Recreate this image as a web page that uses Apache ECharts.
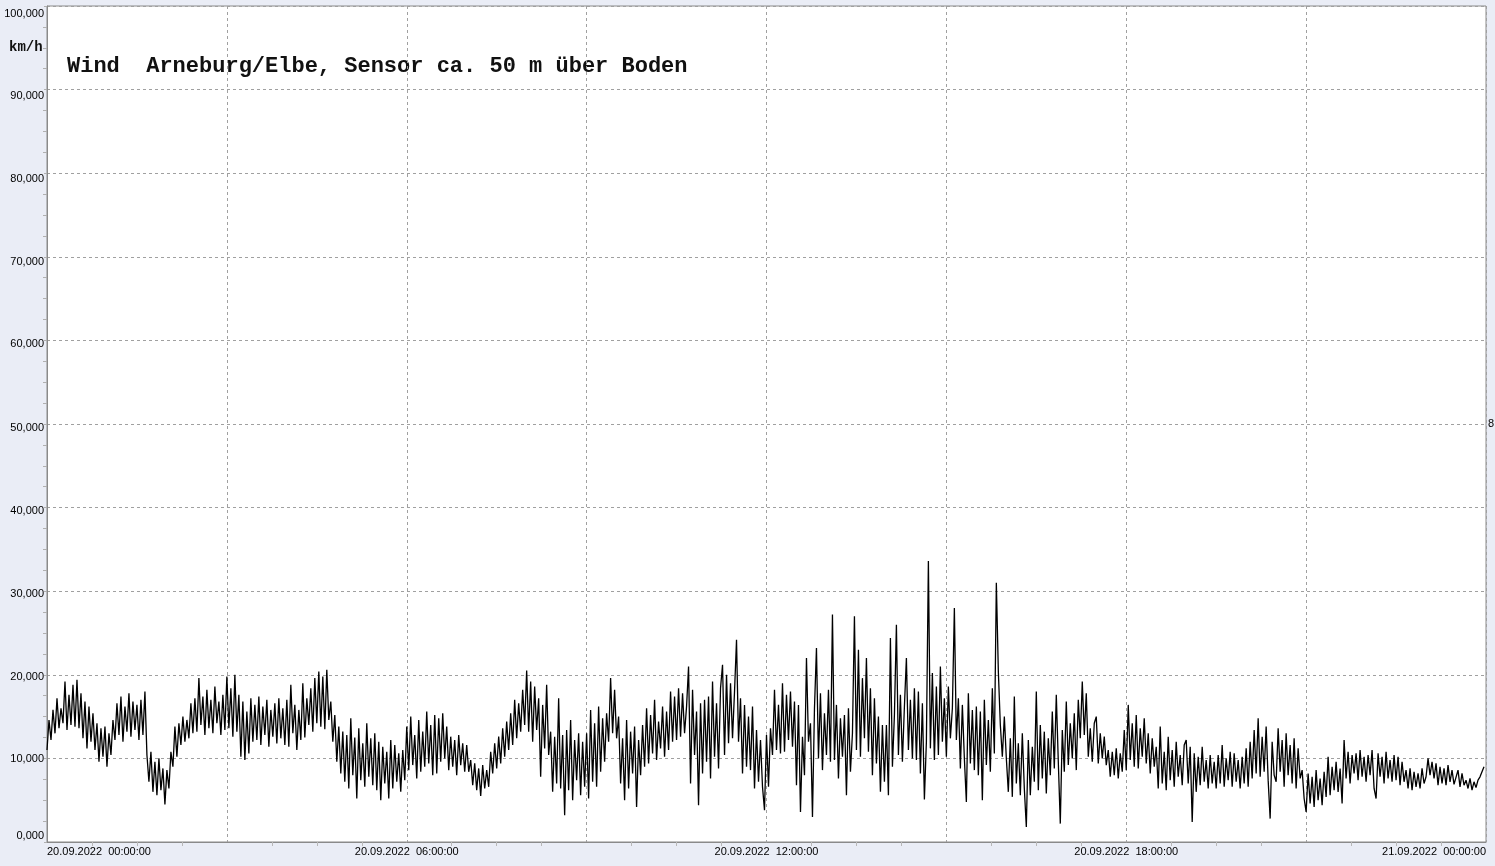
<!DOCTYPE html>
<html>
<head>
<meta charset="utf-8">
<script src="https://cdn.jsdelivr.net/npm/echarts@6/dist/echarts.min.js"></script>
<style>
  html, body { margin: 0; padding: 0; background: #eaedf6; }
  #chart { width: 1495px; height: 866px; }
</style>
</head>
<body>
<div id="chart"></div>
<script>
// ---- Data ----
const chartTitle = 'Wind  Arneburg/Elbe, Sensor ca. 50 m über Boden';
const unitLabel = 'km/h';
const sideLabel = '8';
const sampleStepMin = 2; // one sample every 2 minutes, starting 20.09.2022 00:00:00
const xTickLabels = ['20.09.2022  00:00:00', '', '20.09.2022  06:00:00', '', '20.09.2022  12:00:00', '', '20.09.2022  18:00:00', '', '21.09.2022  00:00:00'];
const yTickLabels = ['0,000', '10,000', '20,000', '30,000', '40,000', '50,000', '60,000', '70,000', '80,000', '90,000', '100,000'];
const windKmh = [
  11.0, 14.6, 12.2, 15.8, 13.0, 17.2, 13.6, 16.0, 14.2, 19.2, 13.4, 17.6, 14.0, 18.8, 13.8,
  19.4, 13.6, 17.8, 12.4, 16.8, 11.2, 16.2, 12.0, 15.4, 11.0, 14.2, 9.6, 13.6, 10.2, 13.8,
  9.0, 13.0, 10.4, 14.6, 12.2, 16.6, 12.8, 17.4, 12.0, 16.2, 13.2, 17.8, 12.6, 16.8, 13.4,
  16.4, 12.2, 17.0, 12.8, 18.0, 10.4, 7.2, 10.8, 6.0, 9.6, 5.6, 10.0, 6.2, 8.8, 4.5,
  8.6, 6.4, 10.8, 9.0, 13.8, 10.2, 14.2, 11.6, 15.0, 12.0, 14.6, 12.4, 16.6, 13.0, 17.2,
  13.2, 19.6, 14.0, 17.4, 12.8, 18.2, 13.6, 17.0, 13.0, 18.6, 14.2, 16.8, 12.8, 17.6, 13.4,
  19.8, 13.6, 18.4, 12.6, 20.0, 13.2, 17.6, 10.2, 16.8, 9.8, 15.6, 10.6, 17.2, 12.0, 16.4,
  12.2, 17.4, 11.6, 16.2, 12.8, 17.0, 11.4, 15.8, 12.6, 16.6, 11.8, 17.2, 12.4, 16.0, 11.6,
  17.0, 11.4, 18.8, 13.0, 16.4, 11.0, 15.8, 12.2, 19.0, 12.5, 17.2, 14.0, 18.4, 13.2, 19.6,
  14.2, 20.4, 13.8, 19.8, 13.5, 20.6, 14.6, 16.8, 12.0, 15.2, 9.6, 13.8, 8.2, 13.2, 7.2,
  12.8, 6.4, 14.8, 8.0, 12.5, 5.2, 13.6, 7.4, 11.8, 6.6, 14.2, 7.8, 12.4, 6.8, 13.0,
  6.2, 12.0, 5.0, 11.4, 7.0, 10.8, 5.2, 12.2, 6.4, 11.6, 7.2, 10.6, 6.0, 11.0, 7.4,
  13.8, 8.6, 15.0, 9.2, 12.8, 7.6, 14.6, 8.4, 13.2, 9.0, 15.6, 9.4, 14.0, 8.0, 15.2,
  8.2, 14.8, 9.6, 15.4, 10.0, 13.8, 8.6, 12.6, 9.0, 12.2, 8.0, 12.8, 9.2, 11.8, 8.4,
  11.6, 8.4, 9.8, 6.8, 9.4, 6.2, 8.8, 5.5, 9.2, 6.4, 8.6, 6.6, 10.8, 8.2, 11.8,
  8.8, 12.6, 9.4, 13.6, 10.2, 14.4, 11.0, 15.4, 11.6, 17.0, 12.4, 16.6, 13.2, 18.2, 14.0,
  20.5, 13.2, 19.2, 12.0, 18.6, 13.4, 17.2, 7.8, 16.4, 11.2, 18.8, 10.4, 13.2, 6.0, 12.6,
  7.0, 17.2, 6.4, 12.8, 3.2, 13.4, 6.2, 14.6, 5.0, 12.2, 7.4, 13.0, 5.6, 12.0, 6.6,
  13.0, 5.2, 15.8, 7.2, 14.2, 6.6, 16.2, 8.4, 14.8, 9.6, 15.4, 12.0, 19.6, 13.0, 18.2,
  12.4, 15.0, 7.0, 12.4, 5.0, 14.6, 6.4, 13.2, 8.2, 13.8, 4.2, 12.2, 8.0, 14.0, 9.0,
  16.0, 9.4, 15.2, 10.6, 17.0, 9.8, 14.4, 11.2, 16.2, 10.2, 15.6, 11.0, 18.0, 12.0, 17.4,
  12.2, 18.4, 12.6, 17.8, 13.0, 16.2, 21.0, 7.0, 18.2, 10.4, 15.6, 4.4, 16.6, 8.2, 17.0,
  9.6, 17.4, 7.6, 19.2, 10.2, 16.6, 8.8, 18.4, 21.2, 10.4, 20.0, 11.8, 19.0, 12.4, 18.0,
  24.2, 12.0, 17.2, 8.2, 16.4, 9.0, 15.0, 8.6, 16.2, 6.4, 13.4, 7.2, 12.2, 6.6, 3.8,
  12.8, 6.6, 13.6, 10.4, 18.2, 11.0, 16.4, 10.6, 19.0, 10.8, 17.6, 12.2, 18.0, 11.4, 16.8,
  6.8, 16.4, 3.6, 12.6, 8.0, 22.0, 12.0, 14.2, 3.0, 16.0, 23.2, 10.0, 17.8, 8.6, 15.4,
  10.4, 18.2, 9.6, 27.2, 9.8, 16.4, 7.6, 14.8, 10.2, 15.2, 5.6, 16.0, 8.4, 13.0, 27.0,
  11.0, 23.0, 10.2, 19.6, 12.4, 22.0, 10.8, 18.4, 8.0, 17.2, 9.4, 15.0, 6.0, 14.0, 7.2,
  14.0, 5.6, 24.4, 9.0, 15.2, 26.0, 10.4, 17.6, 9.6, 16.2, 22.0, 11.0, 17.0, 10.0, 18.4,
  9.8, 18.0, 8.2, 16.6, 5.1, 12.0, 33.6, 11.2, 20.2, 9.8, 18.6, 10.4, 21.0, 12.0, 17.2,
  10.2, 18.6, 12.4, 16.0, 28.0, 12.2, 17.2, 8.8, 16.4, 10.0, 4.8, 17.8, 9.4, 15.8, 8.6,
  16.2, 8.0, 15.6, 5.0, 17.0, 9.2, 14.6, 8.4, 18.4, 10.6, 31.0, 20.4, 14.0, 10.2, 15.0,
  10.0, 6.0, 12.4, 5.4, 17.4, 7.0, 11.8, 5.6, 13.0, 6.4, 1.8, 12.2, 5.6, 11.4, 7.2,
  18.0, 6.2, 14.0, 7.6, 13.2, 5.8, 12.4, 8.0, 15.6, 8.8, 17.6, 9.6, 2.2, 13.4, 8.4,
  16.8, 9.2, 14.2, 10.0, 15.4, 8.6, 17.0, 12.4, 19.2, 12.8, 17.8, 10.2, 13.6, 9.6, 14.2,
  15.0, 9.4, 13.0, 10.0, 12.6, 9.2, 11.0, 7.8, 10.8, 8.0, 11.2, 7.6, 10.6, 8.4, 13.4,
  8.6, 16.4, 9.8, 14.2, 9.0, 15.2, 8.8, 13.6, 10.2, 14.8, 9.4, 13.0, 8.2, 12.4, 9.0,
  11.4, 6.4, 13.8, 7.0, 10.8, 6.2, 12.6, 7.4, 11.0, 6.6, 12.0, 7.8, 10.4, 6.8, 11.6,
  12.2, 7.0, 11.4, 2.4, 10.6, 6.0, 10.2, 6.8, 11.4, 7.2, 9.8, 6.4, 10.4, 7.0, 9.6,
  6.4, 10.4, 7.0, 11.6, 6.6, 10.0, 7.4, 10.8, 6.6, 10.6, 7.2, 9.8, 6.4, 10.2, 7.0,
  11.2, 6.6, 12.0, 7.6, 13.4, 8.2, 14.8, 7.8, 12.6, 8.4, 13.8, 7.4, 2.8, 12.0, 8.0,
  7.2, 13.6, 8.4, 12.2, 6.6, 13.0, 8.0, 11.6, 7.0, 12.4, 6.4, 11.2, 7.6, 8.6, 5.2,
  3.6, 8.2, 4.6, 7.8, 4.2, 8.6, 5.0, 7.6, 4.4, 8.4, 5.4, 10.2, 5.6, 9.0, 6.2,
  9.6, 6.0, 8.8, 4.6, 12.2, 7.6, 10.8, 7.0, 10.4, 8.2, 10.6, 7.4, 11.0, 7.8, 10.2,
  7.2, 10.4, 8.0, 11.0, 6.4, 5.2, 10.6, 7.8, 10.2, 7.0, 10.8, 7.6, 9.8, 7.2, 10.4,
  7.4, 10.2, 6.8, 9.6, 7.2, 8.6, 6.4, 8.8, 6.2, 8.4, 6.6, 8.2, 6.4, 8.8, 7.0,
  7.8, 10.0, 8.0, 9.6, 7.6, 9.4, 6.8, 9.0, 7.0, 8.8, 6.8, 9.2, 7.2, 8.6, 6.9,
  7.0, 8.6, 6.6, 8.2, 6.8, 7.4, 6.4, 7.6, 6.2, 7.2, 6.5, 7.4, 7.8, 8.4, 9.0
];

// ---- Chart ----
const chart = echarts.init(document.getElementById('chart'), null, { renderer: 'canvas' });
const seriesData = windKmh.map((v, i) => [i * sampleStepMin, v]);
const gridLine = { show: true, lineStyle: { color: '#a0a0a0', type: [3, 3], width: 1 } };

// small vertical nudges of the y labels, as in the reference (px, positive = down)
const yLabelShift = [-6, 1, 2, 3, 3, 4, 4, 5, 6, 6, 8];
const yRich = {};
yLabelShift.forEach((d, i) => {
  yRich['l' + i] = {
    fontSize: 11, color: '#000', fontFamily: 'Liberation Sans, Arial, sans-serif',
    padding: d >= 0 ? [2 * d, 0, 0, 0] : [0, 0, -2 * d, 0]
  };
});

chart.setOption({
  backgroundColor: '#eaedf6',
  animation: false,
  grid: { left: 47, right: 9, top: 6, bottom: 24, show: true, backgroundColor: '#ffffff', borderColor: '#8a8a8a', borderWidth: 1 },
  xAxis: {
    type: 'value', min: 0, max: 1440, interval: 180,
    axisLine: { show: true, lineStyle: { color: '#8a8a8a' } },
    axisTick: { show: false },
    minorTick: { show: true, splitNumber: 4, length: 4, lineStyle: { color: '#b8b8b8' } },
    splitLine: gridLine,
    axisLabel: {
      margin: 4, fontSize: 11, color: '#000', fontFamily: 'Liberation Sans, Arial, sans-serif',
      alignMinLabel: 'left', alignMaxLabel: 'right', showMinLabel: true, showMaxLabel: true,
      formatter: (v) => xTickLabels[Math.round(v / 180)] || ''
    }
  },
  yAxis: {
    type: 'value', min: 0, max: 100, interval: 10,
    axisLine: { show: true, lineStyle: { color: '#8a8a8a' } },
    axisTick: { show: true, inside: false, length: 3, lineStyle: { color: '#b0b0b0' } },
    minorTick: { show: true, splitNumber: 4, length: 4, lineStyle: { color: '#b0b0b0' } },
    splitLine: gridLine,
    axisLabel: {
      margin: 3, fontSize: 11, color: '#000', fontFamily: 'Liberation Sans, Arial, sans-serif',
      formatter: (v) => { const i = Math.round(v / 10); return '{l' + i + '|' + yTickLabels[i] + '}'; },
      rich: yRich
    }
  },
  graphic: [
    { type: 'text', left: 67, top: 55, style: { text: chartTitle, fill: '#111', font: 'bold 22px "Liberation Mono", "Courier New", monospace' } },
    { type: 'text', left: 9, top: 40, style: { text: unitLabel, fill: '#111', font: 'bold 14px "Liberation Mono", "Courier New", monospace' } },
    { type: 'text', left: 1488, top: 418, style: { text: sideLabel, fill: '#000', font: '11px "Liberation Sans", Arial, sans-serif' } }
  ],
  series: [{
    type: 'line', data: seriesData, showSymbol: false, symbol: 'none',
    lineStyle: { color: '#000', width: 1.3 }, silent: true
  }]
});
</script>
</body>
</html>
